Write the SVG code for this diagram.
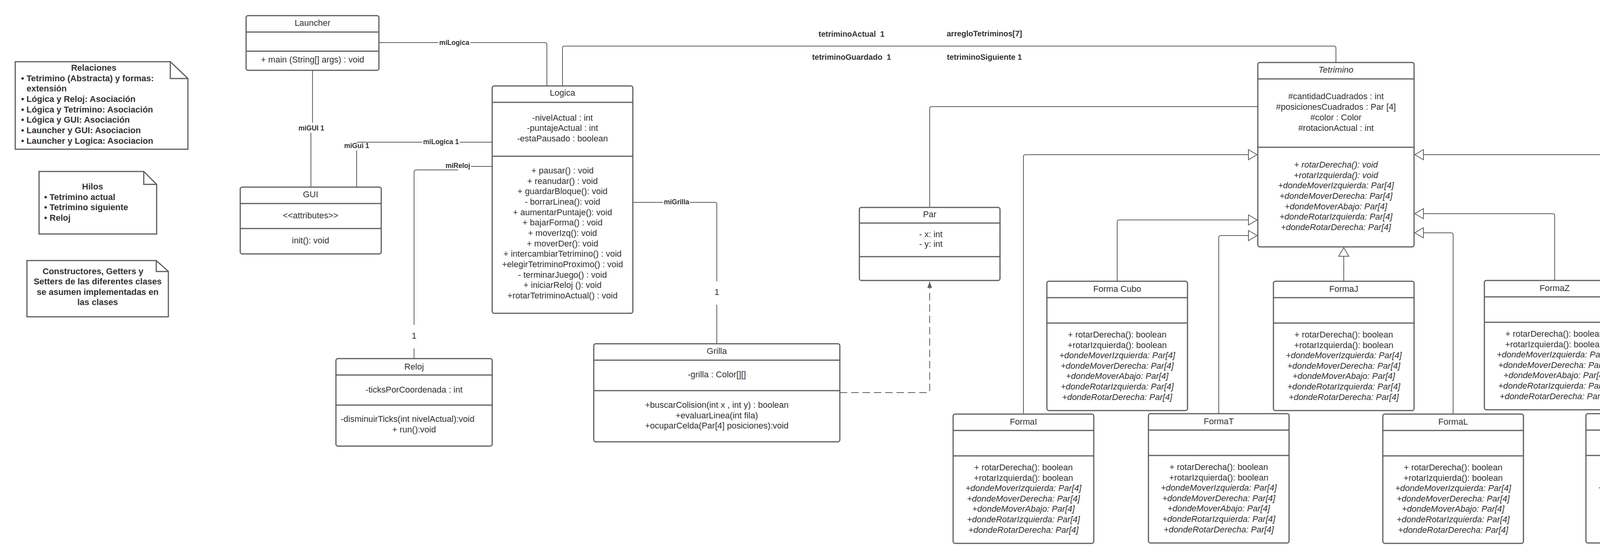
<svg xmlns="http://www.w3.org/2000/svg" width="4460" height="1431" viewBox="0 0 4460 1431">
<style>
.bx{fill:#fff;stroke:#5e5e5e;stroke-width:3}
.sp{stroke:#5e5e5e;stroke-width:3;fill:none}
.t{font-family:"Liberation Sans",Arial,sans-serif;font-size:22px;fill:#333;text-anchor:middle}
.i{font-style:italic}
.s{text-anchor:start}
.c{fill:none;stroke:#5e5e5e;stroke-width:2}
.d{stroke-dasharray:19 10}
.bg{fill:#fff}
.lb{font-family:"Liberation Sans",Arial,sans-serif;font-weight:bold;font-size:17.5px;fill:#333;text-anchor:middle}
.lb2{font-family:"Liberation Sans",Arial,sans-serif;font-weight:bold;font-size:20px;fill:#333;text-anchor:middle}
.n1{font-family:"Liberation Sans",Arial,sans-serif;font-size:22px;fill:#333;text-anchor:middle}
.nt{font-family:"Liberation Sans",Arial,sans-serif;font-weight:bold;font-size:22px;fill:#333}
.nb{fill:#fff;stroke:#5e5e5e;stroke-width:3;stroke-linejoin:miter}
</style>
<defs>
<marker id="gen" markerUnits="userSpaceOnUse" viewBox="0 0 26 30" markerWidth="26" markerHeight="30" refX="24" refY="15" orient="auto">
<path d="M2,2 L24,15 L2,28 Z" fill="#fff" stroke="#5e5e5e" stroke-width="2"/>
</marker>
<marker id="dep" markerUnits="userSpaceOnUse" viewBox="0 0 17 14" markerWidth="17" markerHeight="14" refX="16" refY="7" orient="auto">
<path d="M0,1 L16,7 L0,13 Z" fill="#5e5e5e"/>
</marker>
</defs>
<rect width="4460" height="1431" fill="#fff"/>

<g id="connectors">
<path class="c" d="M970,109 H1395 Q1400,109 1400,114 V220"/>
<path class="c" d="M800,180 V322 H796 V479"/>
<path class="c" d="M913,479 V369 Q913,364 918,364 H1260"/>
<path class="c" d="M1260,426 H1172 V435 H1065 Q1060,435 1060,440 V918"/>
<path class="c" d="M1620,518 H1830 Q1835,518 1835,523 V880"/>
<path class="c" d="M1440,220 V123 Q1440,118 1445,118 H3415 Q3420,118 3420,123 V160"/>
<path class="c" d="M2380,531 V278 Q2380,273 2385,273 H3219"/>
<path class="c d" d="M2150,1005 H2375 Q2380,1005 2380,1000 V721" marker-end="url(#dep)"/>
<path class="c" d="M2620,1060 V401 Q2620,396 2625,396 H3218" marker-end="url(#gen)"/>
<path class="c" d="M2860,720 V568 Q2860,563 2865,563 H3218" marker-end="url(#gen)"/>
<path class="c" d="M3120,1059 V608 Q3120,603 3125,603 H3218" marker-end="url(#gen)"/>
<path class="c" d="M3440,720 V634" marker-end="url(#gen)"/>
<path class="c" d="M3980,718 V552 Q3980,547 3975,547 H3622" marker-end="url(#gen)"/>
<path class="c" d="M3720,1060 V601 Q3720,596 3715,596 H3622" marker-end="url(#gen)"/>
<path class="c" d="M4240,1059 V401 Q4240,396 4235,396 H3622" marker-end="url(#gen)"/>

<rect class="bg" x="1122" y="100" width="82" height="20"/>
<text class="lb" x="1163" y="115">miLogica</text>
<rect class="bg" x="762" y="314" width="71" height="26"/>
<text class="lb" x="797" y="334">miGUI 1</text>
<rect class="bg" x="878" y="366" width="69" height="19"/>
<text class="lb" x="913" y="379">miGui 1</text>
<rect class="bg" x="1081" y="353" width="96" height="19"/>
<text class="lb" x="1129" y="369">miLogica 1</text>
<rect class="bg" x="1138" y="414" width="68" height="20"/>
<text class="lb" x="1172" y="430">miReloj</text>
<rect class="bg" x="1697" y="508" width="69" height="18"/>
<text class="lb" x="1732" y="523">miGrilla</text>
<rect class="bg" x="1822" y="720" width="26" height="60"/>
<text class="n1" x="1835" y="755">1</text>
<rect class="bg" x="1047" y="831" width="26" height="61"/>
<text class="n1" x="1060" y="867">1</text>
<text class="lb2" x="2180" y="94" xml:space="preserve">tetriminoActual  1</text>
<text class="lb2" x="2180" y="153" xml:space="preserve">tetriminoGuardado  1</text>
<text class="lb2" x="2520" y="93">arregloTetriminos[7]</text>
<text class="lb2" x="2520" y="153">tetriminoSiguiente 1</text>
</g>

<g id="note-relaciones">
<path class="nb" d="M39,158 H436 L481,201 V382 H39 Z"/>
<path class="sp" d="M436,158 V201 H481"/>
<text class="nt" x="240" y="181" text-anchor="middle">Relaciones</text>
<text class="nt" x="54" y="208">• Tetrimino (Abstracta) y formas:</text>
<text class="nt" x="68" y="234">extensión</text>
<text class="nt" x="54" y="261">• Lógica y Reloj: Asociación</text>
<text class="nt" x="54" y="288">• Lógica y Tetrimino: Asociación</text>
<text class="nt" x="54" y="314">• Lógica y GUI: Asociación</text>
<text class="nt" x="54" y="341">• Launcher y GUI: Asociacion</text>
<text class="nt" x="54" y="368">• Launcher y Logica: Asociacion</text>
</g>

<g id="note-hilos">
<path class="nb" d="M100,439 H368 L401,472 V599 H100 Z"/>
<path class="sp" d="M368,439 V472 H401"/>
<text class="nt" x="237" y="485" text-anchor="middle">Hilos</text>
<text class="nt" x="113" y="512">• Tetrimino actual</text>
<text class="nt" x="113" y="538">• Tetrimino siguiente</text>
<text class="nt" x="113" y="565">• Reloj</text>
</g>

<g id="note-constructores">
<path class="nb" d="M69,667 H400 L431,695 V811 H69 Z"/>
<path class="sp" d="M400,667 V695 H431"/>
<text class="nt" x="238" y="702" text-anchor="middle">Constructores, Getters  y</text>
<text class="nt" x="250" y="728" text-anchor="middle">Setters de las diferentes clases</text>
<text class="nt" x="250" y="755" text-anchor="middle">se asumen implementadas en</text>
<text class="nt" x="250" y="781" text-anchor="middle">las clases</text>
</g>

<g id="Launcher">
<rect class="bx" x="630" y="40" width="340" height="140" rx="5"/>
<path class="sp" d="M630,82 H970 M630,131 H970"/>
<text class="t" x="800" y="66">Launcher</text>
<text class="t" x="800" y="160">+ main (String[] args) : void</text>
</g>

<g id="GUI">
<rect class="bx" x="615" y="479" width="361" height="171" rx="5"/>
<path class="sp" d="M615,521 H976 M615,585 H976"/>
<text class="t" x="795" y="505">GUI</text>
<text class="t" x="795" y="559">&lt;&lt;attributes&gt;&gt;</text>
<text class="t" x="795" y="623">init(): void</text>
</g>

<g id="Logica">
<rect class="bx" x="1260" y="220" width="360" height="582" rx="5"/>
<path class="sp" d="M1260,262 H1620 M1260,400 H1620"/>
<text class="t" x="1440" y="245">Logica</text>
<text class="t" x="1440" y="309">-nivelActual : int</text>
<text class="t" x="1440" y="335">-puntajeActual : int</text>
<text class="t" x="1440" y="362">-estaPausado : boolean</text>
<text class="t" x="1440" y="444">+ pausar() : void</text>
<text class="t" x="1440" y="470.7">+ reanudar() : void</text>
<text class="t" x="1440" y="497.3">+ guardarBloque(): void</text>
<text class="t" x="1440" y="524">- borrarLinea(): void</text>
<text class="t" x="1440" y="550.7">+ aumentarPuntaje(): void</text>
<text class="t" x="1440" y="577.3">+ bajarForma() : void</text>
<text class="t" x="1440" y="604">+ moverIzq(): void</text>
<text class="t" x="1440" y="630.7">+ moverDer(): void</text>
<text class="t" x="1440" y="657.3">+ intercambiarTetrimino() : void</text>
<text class="t" x="1440" y="684">+elegirTetriminoProximo() : void</text>
<text class="t" x="1440" y="710.7">- terminarJuego() : void</text>
<text class="t" x="1440" y="737.3">+ iniciarReloj (): void</text>
<text class="t" x="1440" y="764">+rotarTetriminoActual() : void</text>
</g>

<g id="Reloj">
<rect class="bx" x="860" y="918" width="400" height="224" rx="5"/>
<path class="sp" d="M860,960 H1260 M860,1037 H1260"/>
<text class="t" x="1060" y="946">Reloj</text>
<text class="t" x="1060" y="1005">-ticksPorCoordenada : int</text>
<text class="t s" x="872" y="1080">-disminuirTicks(int nivelActual):void</text>
<text class="t" x="1060" y="1107">+ run():void</text>
</g>

<g id="Grilla">
<rect class="bx" x="1520" y="880" width="630" height="251" rx="5"/>
<path class="sp" d="M1520,922 H2150 M1520,1000 H2150"/>
<text class="t" x="1835" y="906">Grilla</text>
<text class="t" x="1835" y="966">-grilla : Color[][]</text>
<text class="t" x="1835" y="1044">+buscarColision(int x , int y) : boolean</text>
<text class="t" x="1835" y="1071">+evaluarLinea(int fila)</text>
<text class="t" x="1835" y="1097">+ocuparCelda(Par[4] posiciones):void</text>
</g>

<g id="Par">
<rect class="bx" x="2200" y="531" width="360" height="187" rx="5"/>
<path class="sp" d="M2200,571 H2560 M2200,657 H2560"/>
<text class="t" x="2380" y="556">Par</text>
<text class="t s" x="2353" y="607" font-size="20">- x: int</text>
<text class="t s" x="2353" y="632" font-size="20">- y: int</text>
</g>

<g id="Tetrimino">
<rect class="bx" x="3220" y="160" width="400" height="472" rx="5"/>
<path class="sp" d="M3220,202 H3620 M3220,377 H3620"/>
<text class="t i" x="3420" y="186">Tetrimino</text>
<text class="t" x="3420" y="254">#cantidadCuadrados : int</text>
<text class="t" x="3420" y="281">#posicionesCuadrados : Par [4]</text>
<text class="t" x="3420" y="308">#color : Color</text>
<text class="t" x="3420" y="335">#rotacionActual : int</text>
<text class="t i" x="3420" y="429">+ rotarDerecha(): void</text>
<text class="t i" x="3420" y="455.5">+rotarIzquierda(): void</text>
<text class="t i" x="3420" y="482">+dondeMoverIzquierda: Par[4]</text>
<text class="t i" x="3420" y="509">+dondeMoverDerecha: Par[4]</text>
<text class="t i" x="3420" y="535.5">+dondeMoverAbajo: Par[4]</text>
<text class="t i" x="3420" y="562">+dondeRotarIzquierda: Par[4]</text>
<text class="t i" x="3420" y="589">+dondeRotarDerecha: Par[4]</text>
</g>

<g id="FormaCubo" transform="translate(2680,720)">
<rect class="bx" x="0" y="0" width="360" height="331" rx="5"/>
<path class="sp" d="M0,42 H360 M0,107 H360"/>
<text class="t" x="180" y="27">Forma Cubo</text>
<text class="t" x="180" y="144">+ rotarDerecha(): boolean</text>
<text class="t" x="180" y="170.6">+rotarIzquierda(): boolean</text>
<text class="t i" x="180" y="197.2">+dondeMoverIzquierda: Par[4]</text>
<text class="t i" x="180" y="223.8">+dondeMoverDerecha: Par[4]</text>
<text class="t i" x="180" y="250.4">+dondeMoverAbajo: Par[4]</text>
<text class="t i" x="180" y="277">+dondeRotarIzquierda: Par[4]</text>
<text class="t i" x="180" y="303.6">+dondeRotarDerecha: Par[4]</text>
</g>

<g id="FormaJ" transform="translate(3260,720)">
<rect class="bx" x="0" y="0" width="360" height="331" rx="5"/>
<path class="sp" d="M0,42 H360 M0,107 H360"/>
<text class="t" x="180" y="27">FormaJ</text>
<text class="t" x="180" y="144">+ rotarDerecha(): boolean</text>
<text class="t" x="180" y="170.6">+rotarIzquierda(): boolean</text>
<text class="t i" x="180" y="197.2">+dondeMoverIzquierda: Par[4]</text>
<text class="t i" x="180" y="223.8">+dondeMoverDerecha: Par[4]</text>
<text class="t i" x="180" y="250.4">+dondeMoverAbajo: Par[4]</text>
<text class="t i" x="180" y="277">+dondeRotarIzquierda: Par[4]</text>
<text class="t i" x="180" y="303.6">+dondeRotarDerecha: Par[4]</text>
</g>

<g id="FormaZ" transform="translate(3800,718)">
<rect class="bx" x="0" y="0" width="360" height="331" rx="5"/>
<path class="sp" d="M0,42 H360 M0,107 H360"/>
<text class="t" x="180" y="27">FormaZ</text>
<text class="t" x="180" y="144">+ rotarDerecha(): boolean</text>
<text class="t" x="180" y="170.6">+rotarIzquierda(): boolean</text>
<text class="t i" x="180" y="197.2">+dondeMoverIzquierda: Par[4]</text>
<text class="t i" x="180" y="223.8">+dondeMoverDerecha: Par[4]</text>
<text class="t i" x="180" y="250.4">+dondeMoverAbajo: Par[4]</text>
<text class="t i" x="180" y="277">+dondeRotarIzquierda: Par[4]</text>
<text class="t i" x="180" y="303.6">+dondeRotarDerecha: Par[4]</text>
</g>

<g id="FormaI" transform="translate(2440,1060)">
<rect class="bx" x="0" y="0" width="360" height="331" rx="5"/>
<path class="sp" d="M0,42 H360 M0,107 H360"/>
<text class="t" x="180" y="27">FormaI</text>
<text class="t" x="180" y="144">+ rotarDerecha(): boolean</text>
<text class="t" x="180" y="170.6">+rotarIzquierda(): boolean</text>
<text class="t i" x="180" y="197.2">+dondeMoverIzquierda: Par[4]</text>
<text class="t i" x="180" y="223.8">+dondeMoverDerecha: Par[4]</text>
<text class="t i" x="180" y="250.4">+dondeMoverAbajo: Par[4]</text>
<text class="t i" x="180" y="277">+dondeRotarIzquierda: Par[4]</text>
<text class="t i" x="180" y="303.6">+dondeRotarDerecha: Par[4]</text>
</g>

<g id="FormaT" transform="translate(2940,1059)">
<rect class="bx" x="0" y="0" width="360" height="331" rx="5"/>
<path class="sp" d="M0,42 H360 M0,107 H360"/>
<text class="t" x="180" y="27">FormaT</text>
<text class="t" x="180" y="144">+ rotarDerecha(): boolean</text>
<text class="t" x="180" y="170.6">+rotarIzquierda(): boolean</text>
<text class="t i" x="180" y="197.2">+dondeMoverIzquierda: Par[4]</text>
<text class="t i" x="180" y="223.8">+dondeMoverDerecha: Par[4]</text>
<text class="t i" x="180" y="250.4">+dondeMoverAbajo: Par[4]</text>
<text class="t i" x="180" y="277">+dondeRotarIzquierda: Par[4]</text>
<text class="t i" x="180" y="303.6">+dondeRotarDerecha: Par[4]</text>
</g>

<g id="FormaL" transform="translate(3540,1060)">
<rect class="bx" x="0" y="0" width="360" height="331" rx="5"/>
<path class="sp" d="M0,42 H360 M0,107 H360"/>
<text class="t" x="180" y="27">FormaL</text>
<text class="t" x="180" y="144">+ rotarDerecha(): boolean</text>
<text class="t" x="180" y="170.6">+rotarIzquierda(): boolean</text>
<text class="t i" x="180" y="197.2">+dondeMoverIzquierda: Par[4]</text>
<text class="t i" x="180" y="223.8">+dondeMoverDerecha: Par[4]</text>
<text class="t i" x="180" y="250.4">+dondeMoverAbajo: Par[4]</text>
<text class="t i" x="180" y="277">+dondeRotarIzquierda: Par[4]</text>
<text class="t i" x="180" y="303.6">+dondeRotarDerecha: Par[4]</text>
</g>

<g id="FormaS" transform="translate(4060,1059)">
<rect class="bx" x="0" y="0" width="360" height="331" rx="5"/>
<path class="sp" d="M0,42 H360 M0,107 H360"/>
<text class="t" x="180" y="27">FormaS</text>
<text class="t" x="180" y="144">+ rotarDerecha(): boolean</text>
<text class="t" x="180" y="170.6">+rotarIzquierda(): boolean</text>
<text class="t i" x="180" y="197.2">+dondeMoverIzquierda: Par[4]</text>
<text class="t i" x="180" y="223.8">+dondeMoverDerecha: Par[4]</text>
<text class="t i" x="180" y="250.4">+dondeMoverAbajo: Par[4]</text>
<text class="t i" x="180" y="277">+dondeRotarIzquierda: Par[4]</text>
<text class="t i" x="180" y="303.6">+dondeRotarDerecha: Par[4]</text>
</g>
</svg>
